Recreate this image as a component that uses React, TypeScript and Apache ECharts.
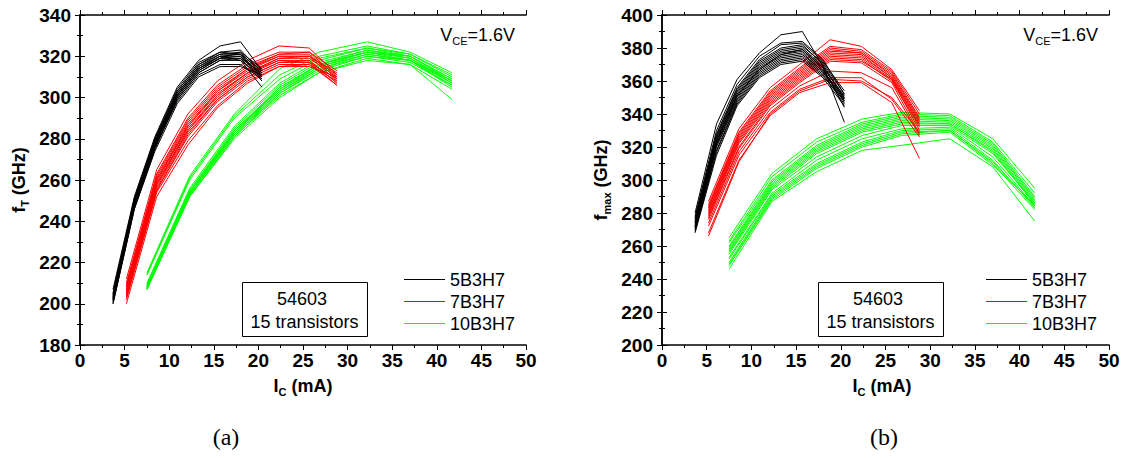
import React, { useEffect, useRef } from "react";
import * as echarts from "echarts";

const FONT = '"Liberation Sans", Arial, Helvetica, sans-serif';
const SERIF = '"Liberation Serif", "Times New Roman", serif';

// X ticks / axis ranges
const xTicks = { min: 0, max: 50, interval: 5 };
const yTicksFT = { min: 180, max: 340, interval: 20 };
const yTicksFmax = { min: 200, max: 400, interval: 20 };

// Collector currents (mA) at which each device group was measured
const icB = [3.7, 6.1, 8.4, 10.9, 13.3, 15.7, 18.0, 20.4];
const icR = [5.2, 8.6, 12.1, 15.4, 18.8, 22.3, 25.7, 28.8];
const icG = [7.5, 12.3, 17.3, 22.4, 26.8, 32.2, 37.0, 41.7];

// (a) fT (GHz), 15 transistors per group
const ftB = [
  [207, 252, 281, 305, 318, 325, 327, 313],
  [205, 251, 280, 304, 317, 322, 323, 312],
  [204, 250, 279, 303, 316, 321, 322, 311],
  [203, 249, 278, 302, 315, 321, 321, 310],
  [203, 249, 278, 301, 314, 320, 321, 313],
  [202, 248, 277, 301, 314, 320, 320, 311],
  [202, 248, 277, 300, 313, 319, 320, 309],
  [201, 247, 276, 300, 313, 319, 319, 312],
  [201, 247, 276, 299, 312, 318, 318, 310],
  [200, 246, 275, 299, 312, 318, 319, 308],
  [204, 250, 279, 302, 315, 320, 318, 305],
  [202, 248, 276, 298, 311, 316, 316, 309],
  [200, 246, 274, 297, 310, 315, 315, 311],
  [203, 249, 278, 301, 314, 319, 322, 314],
  [205, 251, 280, 303, 316, 322, 321, 310],
];
const ftR = [
  [212, 265, 292, 308, 318, 325, 324, 311],
  [210, 263, 290, 306, 316, 322, 322, 310],
  [209, 262, 289, 305, 315, 321, 321, 309],
  [208, 261, 288, 304, 314, 320, 320, 312],
  [207, 260, 287, 303, 313, 320, 320, 308],
  [206, 259, 286, 302, 312, 319, 319, 310],
  [206, 258, 285, 301, 312, 318, 318, 307],
  [205, 257, 284, 300, 311, 318, 317, 309],
  [204, 256, 283, 299, 310, 317, 317, 306],
  [203, 255, 281, 298, 309, 316, 316, 308],
  [202, 254, 279, 296, 308, 315, 315, 310],
  [200, 252, 277, 295, 307, 315, 316, 306],
  [208, 260, 286, 303, 314, 321, 322, 313],
  [205, 258, 284, 301, 312, 319, 320, 311],
  [203, 255, 282, 299, 310, 317, 318, 307],
];
const ftG = [
  [215, 262, 292, 314, 322, 327, 322, 312],
  [214, 261, 291, 311, 320, 325, 321, 310],
  [214, 260, 290, 309, 319, 324, 321, 311],
  [210, 256, 286, 307, 318, 324, 320, 309],
  [209, 255, 285, 306, 317, 323, 320, 308],
  [209, 255, 284, 305, 316, 323, 319, 307],
  [208, 254, 284, 304, 316, 322, 319, 308],
  [208, 254, 283, 304, 315, 322, 318, 306],
  [208, 253, 283, 303, 315, 321, 318, 307],
  [207, 253, 282, 302, 314, 321, 318, 305],
  [207, 252, 281, 302, 313, 320, 317, 306],
  [207, 252, 281, 301, 312, 319, 316, 304],
  [207, 252, 280, 300, 312, 318, 316, 299],
  [208, 253, 282, 303, 314, 320, 318, 308],
  [209, 254, 283, 305, 316, 322, 320, 309],
];

// (b) fmax (GHz)
const fmB = [
  [280, 334, 361, 377, 388, 390, 369, 335],
  [278, 330, 358, 375, 383, 384, 373, 352],
  [277, 328, 356, 373, 382, 383, 372, 354],
  [276, 327, 355, 372, 380, 382, 370, 350],
  [275, 326, 354, 371, 379, 381, 371, 352],
  [274, 325, 353, 370, 378, 380, 369, 349],
  [274, 324, 352, 369, 377, 379, 368, 351],
  [273, 323, 351, 368, 376, 378, 367, 348],
  [272, 322, 350, 367, 375, 377, 366, 350],
  [271, 321, 349, 366, 374, 376, 366, 347],
  [271, 320, 348, 365, 373, 375, 365, 349],
  [270, 318, 347, 364, 372, 374, 364, 346],
  [269, 317, 346, 363, 371, 373, 363, 348],
  [268, 315, 345, 362, 370, 372, 362, 345],
  [272, 323, 351, 367, 376, 379, 368, 344],
];
const fmR = [
  [287, 331, 356, 370, 385, 381, 367, 342],
  [285, 329, 354, 368, 381, 379, 366, 340],
  [284, 328, 353, 367, 380, 378, 365, 338],
  [283, 327, 352, 366, 379, 377, 364, 337],
  [282, 326, 351, 365, 378, 377, 363, 336],
  [281, 325, 350, 364, 377, 376, 362, 335],
  [280, 324, 349, 363, 376, 375, 362, 334],
  [279, 323, 348, 362, 375, 374, 361, 333],
  [278, 322, 347, 361, 374, 373, 360, 332],
  [277, 320, 346, 360, 373, 372, 361, 330],
  [276, 319, 345, 359, 372, 371, 359, 328],
  [274, 317, 343, 357, 366, 365, 356, 327],
  [272, 315, 341, 355, 362, 362, 349, 326],
  [268, 312, 339, 353, 359, 359, 347, 313],
  [266, 311, 340, 354, 361, 360, 350, 329],
];
const fmG = [
  [265, 304, 325, 337, 341, 340, 325, 295],
  [263, 302, 323, 335, 340, 339, 323, 292],
  [262, 300, 321, 334, 339, 338, 322, 290],
  [260, 299, 320, 333, 338, 337, 321, 289],
  [259, 298, 319, 332, 337, 336, 320, 288],
  [258, 297, 318, 331, 336, 335, 319, 287],
  [257, 296, 317, 330, 335, 334, 318, 286],
  [256, 295, 316, 329, 334, 334, 317, 285],
  [255, 294, 314, 327, 333, 333, 316, 286],
  [253, 292, 312, 325, 331, 332, 314, 284],
  [252, 291, 310, 323, 330, 331, 312, 283],
  [250, 290, 309, 322, 329, 330, 311, 284],
  [249, 289, 308, 321, 328, 330, 310, 282],
  [248, 288, 307, 320, 327, 329, 309, 285],
  [246, 287, 305, 318, 321, 325, 308, 275],
];

const legendNames = ["5B3H7", "7B3H7", "10B3H7"];
const colors = ["#000000", "#ff0000", "#00ff00"];

function buildOption() {
  const axisLine = { show: true, lineStyle: { color: "#000", width: 1.5 } };
  const tick = { show: true, inside: false, length: 5, lineStyle: { color: "#000", width: 1 } };
  const minor = { show: true, splitNumber: 2, length: 3, lineStyle: { color: "#000", width: 1 } };
  const lbl = { fontFamily: FONT, fontWeight: "bold" as const, fontSize: 19, color: "#000" };

  const xa = (grid: number, pos: "bottom" | "top") => ({
    type: "value",
    gridIndex: grid,
    position: pos,
    ...xTicks,
    axisLine,
    axisTick: tick,
    minorTick: minor,
    splitLine: { show: false },
    axisLabel: pos === "bottom" ? { ...lbl, margin: 6 } : { show: false },
  });
  const ya = (grid: number, pos: "left" | "right", t: any) => ({
    type: "value",
    gridIndex: grid,
    position: pos,
    ...t,
    axisLine,
    axisTick: tick,
    minorTick: minor,
    splitLine: { show: false },
    axisLabel: pos === "left" ? { ...lbl, margin: 9 } : { show: false },
  });

  const series: any[] = [];
  const groups = [
    { xs: icG, a: ftG, b: fmG, c: colors[2] },
    { xs: icR, a: ftR, b: fmR, c: colors[1] },
    { xs: icB, a: ftB, b: fmB, c: colors[0] },
  ];
  groups.forEach((g) => {
    [g.a, g.b].forEach((set, panel) => {
      set.forEach((ys) => {
        series.push({
          type: "line",
          xAxisIndex: panel * 2,
          yAxisIndex: panel * 2,
          data: g.xs.map((x, i) => [x, ys[i]]),
          symbol: "none",
          showSymbol: false,
          silent: true,
          lineStyle: { color: g.c, width: 1 },
        });
      });
    });
  });

  const sub = {
    m: { fontFamily: FONT, fontSize: 18, fontWeight: "bold", color: "#000", lineHeight: 22 },
    s: { fontFamily: FONT, fontSize: 11, fontWeight: "bold", color: "#000", lineHeight: 10, verticalAlign: "bottom" },
  };
  const subN = {
    m: { fontFamily: FONT, fontSize: 18, color: "#000", lineHeight: 22 },
    s: { fontFamily: FONT, fontSize: 11, color: "#000", lineHeight: 10, verticalAlign: "bottom" },
  };

  const txt = (x: number, y: number, text: string, extra: any = {}) => ({
    type: "text",
    x,
    y,
    silent: true,
    style: { text, fontFamily: FONT, fontSize: 18, fill: "#000", align: "center", verticalAlign: "middle", ...extra },
  });

  const panels = [
    { left: 80, right: 526, yTitle: "{m|f}{s|T}{m| (GHz)}", yTitleX: 19, xc: 303, boxX: 242, legX: 404, cap: "(a)", capX: 226 },
    { left: 662, right: 1109, yTitle: "{m|f}{s|max}{m| (GHz)}", yTitleX: 601, xc: 882, boxX: 818, legX: 986, cap: "(b)", capX: 884 },
  ];
  const graphic: any[] = [];
  panels.forEach((p) => {
    graphic.push({
      type: "text", x: p.yTitleX, y: 180, rotation: Math.PI / 2, silent: true,
      style: { text: p.yTitle, rich: sub, align: "center", verticalAlign: "middle" },
    });
    graphic.push({
      type: "text", x: p.xc, y: 386, silent: true,
      style: { text: "{m|I}{s|C}{m| (mA)}", rich: sub, align: "center", verticalAlign: "middle" },
    });
    graphic.push({
      type: "text", x: p.right - 11, y: 35, silent: true,
      style: { text: "{m|V}{s|CE}{m|=1.6V}", rich: subN, align: "right", verticalAlign: "middle" },
    });
    graphic.push({
      type: "rect", silent: true,
      shape: { x: p.boxX + 0.5, y: 282.5, width: 125, height: 54 },
      style: { fill: "none", stroke: "#000", lineWidth: 1 },
    });
    graphic.push(txt(p.boxX + 60, 299, "54603"));
    graphic.push(txt(p.boxX + 62.5, 322, "15 transistors"));
    legendNames.forEach((n, i) => {
      const ly = 279.5 + i * 22;
      graphic.push({
        type: "line", silent: true,
        shape: { x1: p.legX, y1: ly, x2: p.legX + 41, y2: ly },
        style: { stroke: colors[i], lineWidth: 1 },
      });
      graphic.push(txt(p.legX + 46, ly, n, { align: "left" }));
    });
    graphic.push(txt(p.capX, 437, p.cap, { fontFamily: SERIF, fontSize: 24 }));
  });

  return {
    animation: false,
    backgroundColor: "#ffffff",
    grid: [
      { left: 80, top: 15, width: 446, height: 330, containLabel: false },
      { left: 662, top: 15, width: 447, height: 330, containLabel: false },
    ],
    xAxis: [xa(0, "bottom"), xa(0, "top"), xa(1, "bottom"), xa(1, "top")],
    yAxis: [ya(0, "left", yTicksFT), ya(0, "right", yTicksFT), ya(1, "left", yTicksFmax), ya(1, "right", yTicksFmax)],
    series,
    graphic,
  };
}

export default function App() {
  const ref = useRef<HTMLDivElement>(null);
  useEffect(() => {
    document.body.style.margin = "0";
    if (!ref.current) return;
    const chart = echarts.init(ref.current, undefined, { renderer: "svg" });
    chart.setOption(buildOption() as any);
    return () => chart.dispose();
  }, []);
  return <div ref={ref} style={{ width: 1126, height: 458 }} />;
}
